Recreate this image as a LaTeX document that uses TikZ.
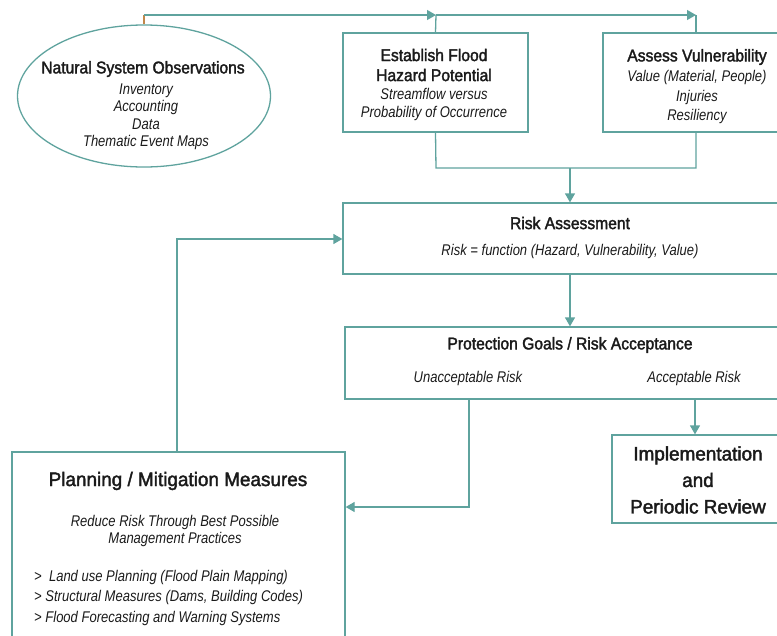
\documentclass[tikz,border=0pt]{standalone}
\usepackage{fontspec}
\setmainfont{Liberation Sans}[FakeStretch=0.84]
\newfontfamily\headfont{Liberation Sans}[FakeStretch=0.92,FakeBold=2]
\newfontfamily\bigfont{Liberation Sans}[FakeStretch=0.97,FakeBold=2]
\usetikzlibrary{arrows.meta,shapes.geometric}
\definecolor{teal1}{HTML}{5FA39E}
\definecolor{orng}{HTML}{C2874A}
\definecolor{txt}{HTML}{1A1A1A}
\tikzset{
  box/.style={draw=teal1,line width=1.3pt,rectangle,inner sep=0pt},
  conn/.style={draw=teal1,line width=1.3pt},
  arr/.style={conn,-{Triangle[length=9pt,width=10pt]}},
  ttl/.style={font=\headfont\fontsize{17}{20}\selectfont,text=txt,inner sep=0pt,align=center},
  big/.style={font=\bigfont\fontsize{19.5}{22}\selectfont,text=txt,inner sep=0pt,align=center},
  sub/.style={font=\itshape\fontsize{15.5}{17.5}\selectfont,text=txt,inner sep=0pt,align=center},
  subl/.style={font=\itshape\fontsize{15.5}{20.5}\selectfont,text=txt,inner sep=0pt,align=left}
}
\begin{document}
\begin{tikzpicture}[x=1pt,y=-1pt]
\useasboundingbox (0,0) rectangle (777,635);
\begin{scope}
\clip (0,0) rectangle (777,635);
% boxes
\node[ellipse,draw=teal1,line width=1.3pt,minimum width=253pt,minimum height=142pt,inner sep=0pt] (obs) at (144,96) {};
\node[box,minimum width=185pt,minimum height=99pt] (est) at (435.5,82.5) {};
\node[box,minimum width=186pt,minimum height=99pt] (vul) at (696,82.5) {};
\node[box,minimum width=454pt,minimum height=71pt] (risk) at (570,238.5) {};
\node[box,minimum width=450pt,minimum height=72pt] (prot) at (570,363) {};
\node[box,minimum width=172pt,minimum height=88pt] (impl) at (698,479) {};
\node[box,minimum width=333pt,minimum height=240pt] (plan) at (178.5,572) {};
% texts
\node[ttl] (obsT) at (143,69) {Natural System Observations};
\node[sub] (obsS) at (146,117) {Inventory\\Accounting\\Data\\Thematic Event Maps};
\node[ttl,font=\headfont\fontsize{17}{20}\selectfont] (estT) at (434,65) {Establish Flood\\Hazard Potential};
\node[sub,font=\itshape\fontsize{15.5}{18}\selectfont] (estS) at (434,104) {Streamflow versus\\Probability of Occurrence};
\node[ttl] (vulT) at (697,57) {Assess Vulnerability};
\node[sub,font=\itshape\fontsize{15.5}{19.5}\selectfont] (vulS) at (697,97) {Value (Material, People)\\Injuries\\Resiliency};
\node[ttl] (riskT) at (570,223) {Risk Assessment};
\node[sub] (riskS) at (570,251) {Risk = function (Hazard, Vulnerability, Value)};
\node[ttl] (protT) at (570,345) {Protection Goals / Risk Acceptance};
\node[sub] (unacc) at (468,378) {Unacceptable Risk};
\node[sub] (acc) at (694,378) {Acceptable Risk};
\node[big,font=\bigfont\fontsize{19.5}{26.5}\selectfont] (implT) at (698,480) {Implementation\\and\\Periodic Review};
\node[big] (planT) at (178,481) {Planning / Mitigation Measures};
\node[sub] (planS) at (175,531) {Reduce Risk Through Best Possible\\Management Practices};
\node[subl,anchor=north west] (planL) at (34,570) {>\ \ Land use Planning (Flood Plain Mapping)\\> Structural Measures (Dams, Building Codes)\\> Flood Forecasting and Warning Systems};
% connectors
\coordinate (j1) at (436,15);
\coordinate (j2) at (696,15);
\coordinate (m1) at (436,168);
\coordinate (m2) at (696,168);
\coordinate (mc) at (570,168);
\draw[draw=orng,line width=1.3pt] (obs.north) -- (144,15);
\draw[arr] (144,15) -- (j1);
\draw[conn] (j1) -- (est.north);
\draw[arr] (j1) -- (j2);
\draw[conn] (j2) -- (vul.north);
\draw[conn] (est.south) -- (m1) -- (m2) -- (vul.south);
\draw[arr] (mc) -- (risk.north);
\draw[arr] (risk.south) -- (prot.north);
\draw[arr] (469,399) |- (plan.east |- 0,507);
\draw[arr] (695,399) -- (impl.north -| 695,0);
\draw[arr] (plan.north -| 177,0) |- (risk.west |- 0,239);
\end{scope}
\end{tikzpicture}
\end{document}
